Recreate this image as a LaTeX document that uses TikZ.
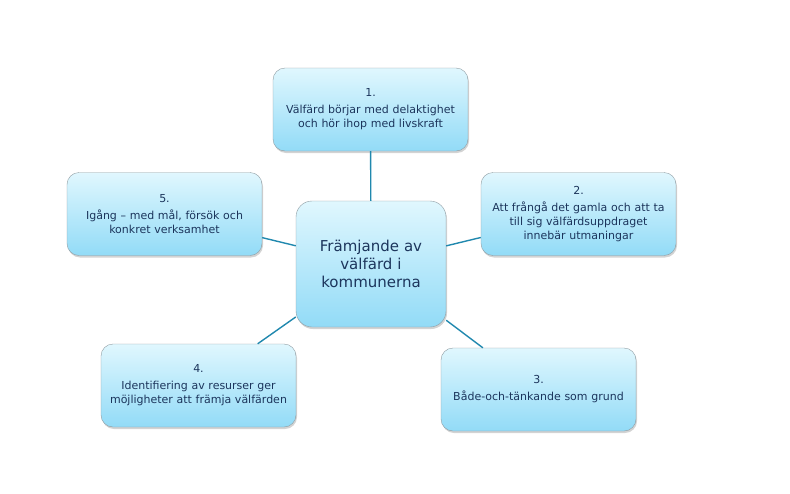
\documentclass[tikz,border=0pt]{standalone}
\usepackage{fontspec}
\setmainfont{DejaVu Sans}
\usetikzlibrary{shadows, positioning}

\definecolor{boxtop}{HTML}{E0F7FE}
\definecolor{boxbottom}{HTML}{92DBF7}
\definecolor{boxline}{HTML}{8E9BA1}
\definecolor{textblue}{HTML}{1C355C}
\definecolor{linkteal}{HTML}{2088AE}

\tikzset{
  topic/.style={draw=boxline, rounded corners=12pt, top color=boxtop, bottom color=boxbottom,
    minimum width=195pt, minimum height=83pt, text width=189pt, align=center,
    font=\fontsize{11}{14}\selectfont, text=textblue, inner sep=3pt,
    drop shadow={shadow xshift=1pt, shadow yshift=-2pt, opacity=0.35}},
  hub/.style={topic, minimum width=150pt, minimum height=126pt, text width=140pt,
    rounded corners=16pt, font=\fontsize{15}{18}\selectfont},
  link/.style={draw=linkteal, line width=1.4pt}
}

\begin{document}
\begin{tikzpicture}[x=1pt, y=-1pt]

\useasboundingbox (0, 0) rectangle (790, 493);

\node [hub] (hub) at (371, 264) {Främjande av\\välfärd i\\kommunerna};

\node [topic] (one) at (370.5, 109.5) {1.\\[3pt]Välfärd börjar med delaktighet\\och hör ihop med livskraft};
\node [topic] (two) at (578.5, 214) {2.\\[3pt]Att frångå det gamla och att ta\\till sig välfärdsuppdraget\\innebär utmaningar};
\node [topic] (three) at (538.5, 389.5) {3.\\[3pt]Både-och-tänkande som grund};
\node [topic] (four) at (198.5, 385.5) {4.\\[3pt]Identifiering av resurser ger\\möjligheter att främja välfärden};
\node [topic] (five) at (164.5, 214) {5.\\[3pt]Igång – med mål, försök och\\konkret verksamhet};

\draw [link] (hub) -- (one);
\draw [link] (hub) -- (two);
\draw [link] (hub) -- (three);
\draw [link] (hub) -- (four);
\draw [link] (hub) -- (five);

\end{tikzpicture}
\end{document}
